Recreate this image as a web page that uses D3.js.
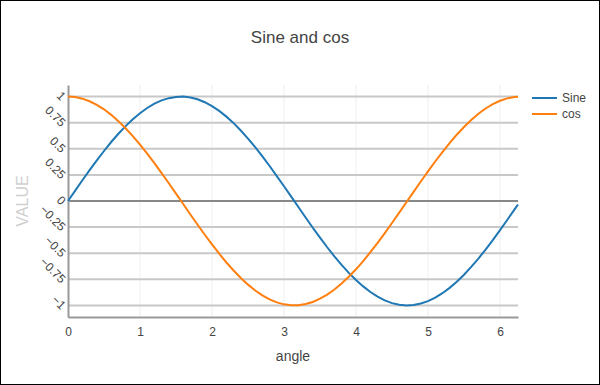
<!DOCTYPE html>
<html>
<head>
<meta charset="utf-8">
<script src="https://cdn.jsdelivr.net/npm/d3@7"></script>
<style>
  body { margin: 0; background: #fff; }
  svg { display: block; font-family: "Liberation Sans", Arial, sans-serif; }
</style>
</head>
<body>
<svg id="chart" width="600" height="385"></svg>
<script>
const angle = [0, 0.1, 0.2, 0.3, 0.4, 0.5, 0.6, 0.7, 0.8, 0.9,
    1, 1.1, 1.2, 1.3, 1.4, 1.5, 1.6, 1.7, 1.8, 1.9,
    2, 2.1, 2.2, 2.3, 2.4, 2.5, 2.6, 2.7, 2.8, 2.9,
    3, 3.1, 3.2, 3.3, 3.4, 3.5, 3.6, 3.7, 3.8, 3.9,
    4, 4.1, 4.2, 4.3, 4.4, 4.5, 4.6, 4.7, 4.8, 4.9,
    5, 5.1, 5.2, 5.3, 5.4, 5.5, 5.6, 5.7, 5.8, 5.9,
    6, 6.1, 6.2, 6.25]
const sineValues = [0.000, 0.100, 0.199, 0.296, 0.389, 0.479, 0.565, 0.644, 0.717, 0.783,
    0.841, 0.891, 0.932, 0.964, 0.985, 0.997, 1.000, 0.992, 0.974, 0.946,
    0.909, 0.863, 0.808, 0.746, 0.675, 0.598, 0.516, 0.427, 0.335, 0.239,
    0.141, 0.042, -0.058, -0.158, -0.256, -0.351, -0.443, -0.530, -0.612, -0.688,
    -0.757, -0.818, -0.872, -0.916, -0.952, -0.978, -0.994, -1.000, -0.996, -0.982,
    -0.959, -0.926, -0.883, -0.832, -0.773, -0.706, -0.631, -0.551, -0.465, -0.374,
    -0.279, -0.182, -0.083, -0.033]
const cosValues = [1.000, 0.995, 0.980, 0.955, 0.921, 0.878, 0.825, 0.765, 0.697, 0.622,
    0.540, 0.454, 0.362, 0.267, 0.170, 0.071, -0.029, -0.129, -0.227, -0.323,
    -0.416, -0.505, -0.589, -0.666, -0.737, -0.801, -0.857, -0.904, -0.942, -0.971,
    -0.990, -0.999, -0.998, -0.987, -0.967, -0.936, -0.897, -0.848, -0.791, -0.726,
    -0.654, -0.575, -0.490, -0.401, -0.307, -0.211, -0.112, -0.012, 0.088, 0.187,
    0.284, 0.378, 0.469, 0.554, 0.635, 0.709, 0.776, 0.835, 0.886, 0.927,
    0.960, 0.983, 0.997, 0.999]
const seriesNames = ["Sine", "cos"]
const xTicks = [0, 1, 2, 3, 4, 5, 6]
const xTickLabels = ["0", "1", "2", "3", "4", "5", "6"]
const yTicks = [-1, -0.75, -0.5, -0.25, 0, 0.25, 0.5, 0.75, 1]
const yTickLabels = ["\u22121", "\u22120.75", "\u22120.5", "\u22120.25", "0", "0.25", "0.5", "0.75", "1"]

const colors = ["#1f77b4", "#ff7f0e"]
const margins = { left: 68, right: 82, top: 85, bottom: 68 }
const svgWidth = 600
const svgHeight = 385
const plotWidth = svgWidth - margins.left - margins.right
const plotHeight = svgHeight - margins.top - margins.bottom

const svg = d3.select("#chart")

svg.append("rect")
    .attr("x", 0.5).attr("y", 0.5)
    .attr("width", svgWidth - 1).attr("height", svgHeight - 1)
    .attr("fill", "white").attr("stroke", "black")

const xScale = d3.scaleLinear()
    .domain([0, d3.max(angle)])
    .range([0, plotWidth])
const yScale = d3.scaleLinear()
    .domain([-1.111, 1.111])
    .range([plotHeight, 0])

const plot = svg.append("g")
    .attr("transform", `translate(${margins.left},${margins.top})`)

// vertical grid
plot.append("g")
    .selectAll("line")
    .data(xTicks.filter(d => d > 0))
    .enter()
    .append("line")
    .attr("x1", d => xScale(d)).attr("x2", d => xScale(d))
    .attr("y1", 0).attr("y2", plotHeight)
    .attr("stroke", "#eeeeee").attr("stroke-width", 1)

// horizontal grid
plot.append("g")
    .selectAll("line")
    .data(yTicks.filter(d => d !== 0))
    .enter()
    .append("line")
    .attr("x1", 0).attr("x2", plotWidth)
    .attr("y1", d => yScale(d)).attr("y2", d => yScale(d))
    .attr("stroke", "#c8c8c8").attr("stroke-width", 2)

// zero line
plot.append("line")
    .attr("x1", 0).attr("x2", plotWidth)
    .attr("y1", yScale(0)).attr("y2", yScale(0))
    .attr("stroke", "#888888").attr("stroke-width", 2)

// x axis
const xAxis = plot.append("g")
    .attr("transform", `translate(0,${plotHeight})`)
    .call(d3.axisBottom(xScale).tickValues(xTicks).tickSize(0).tickPadding(10)
        .tickFormat((d, i) => xTickLabels[i]))
xAxis.select(".domain").attr("stroke", "#999999").attr("stroke-width", 2)
xAxis.selectAll("text").attr("fill", "#444").attr("font-size", 12).attr("font-family", null)

// y axis
const yAxis = plot.append("g")
    .call(d3.axisLeft(yScale).tickValues(yTicks).tickSize(0)
        .tickFormat((d, i) => yTickLabels[i]))
yAxis.select(".domain").attr("stroke", "#999999").attr("stroke-width", 2)
yAxis.selectAll("text")
    .attr("fill", "#444").attr("font-size", 12).attr("font-family", null)
    .attr("x", 0).attr("dy", null)
    .attr("text-anchor", "end")
    .attr("dominant-baseline", "middle")
    .attr("transform", "translate(-5,2) rotate(45)")

// lines
const series = [sineValues, cosValues]
const line = d3.line()
    .x((d, i) => xScale(angle[i]))
    .y(d => yScale(d))
series.forEach((values, index) => {
    plot.append("path")
        .datum(values)
        .attr("d", line)
        .attr("fill", "none")
        .attr("stroke", colors[index])
        .attr("stroke-width", 2)
})

// titles
svg.append("text")
    .attr("x", svgWidth / 2).attr("y", 43)
    .attr("text-anchor", "middle")
    .attr("font-size", 17).attr("fill", "#444")
    .text("Sine and cos")

svg.append("text")
    .attr("x", margins.left + plotWidth / 2).attr("y", 361)
    .attr("text-anchor", "middle")
    .attr("font-size", 14).attr("fill", "#444")
    .text("angle")

svg.append("text")
    .attr("transform", `translate(28,${margins.top + plotHeight / 2}) rotate(-90)`)
    .attr("text-anchor", "middle")
    .attr("font-size", 16).attr("fill", "#d0d0d0")
    .text("VALUE")

// legend
const legend = svg.append("g")
    .attr("transform", "translate(532,98)")
seriesNames.forEach((name, index) => {
    const row = legend.append("g").attr("transform", `translate(0,${index * 16})`)
    row.append("line")
        .attr("x1", 0).attr("x2", 25).attr("y1", 0).attr("y2", 0)
        .attr("stroke", colors[index]).attr("stroke-width", 2)
    row.append("text")
        .attr("x", 30).attr("y", 4)
        .attr("font-size", 12).attr("fill", "#444")
        .text(name)
})
</script>
</body>
</html>
